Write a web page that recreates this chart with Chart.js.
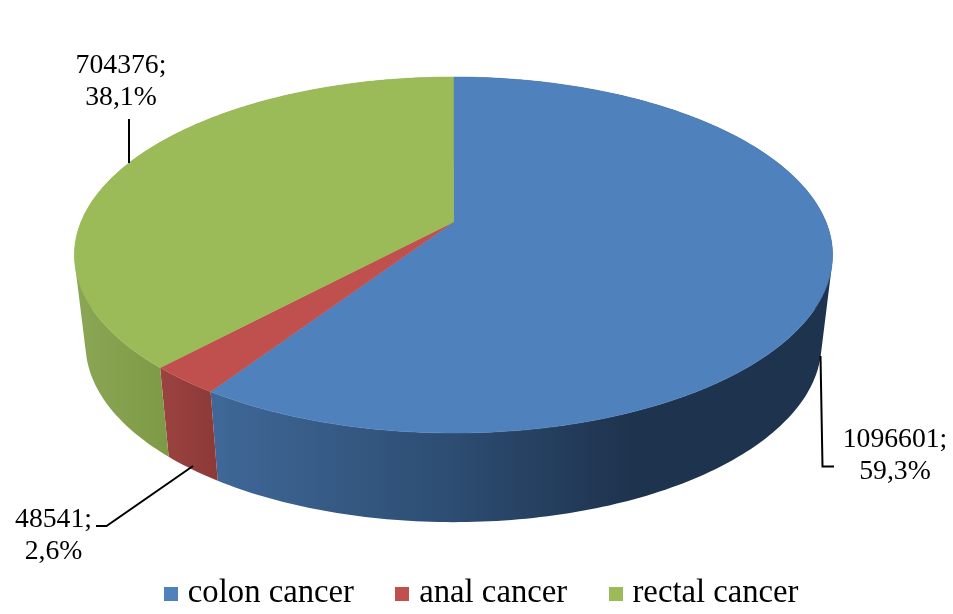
<!DOCTYPE html>
<html>
<head>
<meta charset="utf-8">
<title>Colorectal cancer cases</title>
<script src="https://cdn.jsdelivr.net/npm/chart.js@4/dist/chart.umd.min.js"></script>
<style>
  html, body { margin: 0; padding: 0; background: #fff; }
  #wrap { width: 953px; height: 614px; }
</style>
</head>
<body>
<div id="wrap"><canvas id="myChart" width="953" height="614"></canvas></div>
<script>
const categories = ['colon cancer', 'anal cancer', 'rectal cancer'];
const cases = [1096601, 48541, 704376];

const topColors = ['#4f81bd', '#c0504d', '#9bbb59'];
// side wall shading, left to right across the wall
const sideShades = [
  [[211, '#3f6898'], [450, '#2d4d72'], [630, '#1e334e'], [833, '#1e334e']],
  [[160, '#9c4341'], [218, '#8b3937']],
  [[74, '#8ba654'], [168, '#7f9a47']]
];

// perspective of the tilted disc, fitted to the picture
const topFace = { cx: 453.5, cy: 222, a: 372.5, b: 171.9, k: 0.1854 };
const bottomFace = { cx: 453.5, cy: 311, a: 361.6, b: 172, k: 0.1854 };

function project(face, angle) {
  const u = Math.cos(angle);
  const v = -Math.sin(angle);
  const w = 1 + face.k * v;
  return [face.cx + face.a * u / w, face.cy - face.b * v / w];
}

function arcPoints(face, start, end) {
  const steps = Math.max(8, Math.ceil((end - start) * 60));
  const pts = [];
  for (let i = 0; i <= steps; i++) {
    pts.push(project(face, start + (end - start) * i / steps));
  }
  return pts;
}

function addPolygon(ctx, pts) {
  pts.forEach(function(p, i) {
    if (i === 0) ctx.moveTo(p[0], p[1]);
    else ctx.lineTo(p[0], p[1]);
  });
  ctx.closePath();
}

function signedArea(pts) {
  let sum = 0;
  pts.forEach(function(p, i) {
    const q = pts[(i + 1) % pts.length];
    sum += p[0] * q[1] - q[0] * p[1];
  });
  return sum;
}

const pie3d = {
  id: 'pie3d',
  beforeDatasetDraw(chart, args) {
    const ctx = chart.ctx;
    const arcs = args.meta.data;
    ctx.save();
    // walls first, the top face covers whatever is behind it
    arcs.forEach(function(arc, i) {
      const p = arc.getProps(['startAngle', 'endAngle']);
      const upper = arcPoints(topFace, p.startAngle, p.endAngle);
      const lower = arcPoints(bottomFace, p.startAngle, p.endAngle);
      const stops = sideShades[i];
      const x0 = stops[0][0];
      const x1 = stops[stops.length - 1][0];
      const grad = ctx.createLinearGradient(x0, 0, x1, 0);
      stops.forEach(function(s) { grad.addColorStop((s[0] - x0) / (x1 - x0), s[1]); });
      // one path of quads all wound the same way, so they fill without seams
      ctx.beginPath();
      for (let j = 0; j < upper.length - 1; j++) {
        const quad = [upper[j], upper[j + 1], lower[j + 1], lower[j]];
        if (signedArea(quad) < 0) quad.reverse();
        addPolygon(ctx, quad);
      }
      ctx.fillStyle = grad;
      ctx.fill();
    });
    arcs.forEach(function(arc, i) {
      const p = arc.getProps(['startAngle', 'endAngle']);
      const pts = arcPoints(topFace, p.startAngle, p.endAngle);
      pts.unshift([topFace.cx, topFace.cy]);
      ctx.beginPath();
      addPolygon(ctx, pts);
      ctx.fillStyle = topColors[i];
      ctx.strokeStyle = topColors[i];
      ctx.lineWidth = 0.5;
      ctx.fill();
      ctx.stroke();
    });
    ctx.restore();
    return false;
  },
  afterDatasetsDraw(chart) {
    const ctx = chart.ctx;
    const total = cases.reduce(function(a, b) { return a + b; }, 0);
    const spots = [
      { x: 895, y: 447, line: [[820.5, 356], [822.5, 466.5], [834, 466.5]] },
      { x: 53.5, y: 527, line: [[193, 466], [106.5, 526], [96, 526]] },
      { x: 121, y: 73, line: [[129, 163], [129, 119]] }
    ];
    ctx.save();
    ctx.fillStyle = '#000';
    ctx.strokeStyle = '#000';
    ctx.lineWidth = 2;
    ctx.font = '27.7px "Liberation Serif"';
    ctx.textAlign = 'center';
    ctx.textBaseline = 'alphabetic';
    spots.forEach(function(s, i) {
      ctx.beginPath();
      s.line.forEach(function(p, j) {
        if (j === 0) ctx.moveTo(p[0], p[1]);
        else ctx.lineTo(p[0], p[1]);
      });
      ctx.stroke();
      const pct = (cases[i] / total * 100).toFixed(1).replace('.', ',');
      ctx.fillText(cases[i] + ';', s.x, s.y);
      ctx.fillText(pct + '%', s.x, s.y + 32);
    });
    ctx.restore();
  }
};

// legend marker as an image, so the gap to the text can be tighter than the default
function legendSwatch(color) {
  const c = document.createElement('canvas');
  c.width = 14;
  c.height = 14;
  const g = c.getContext('2d');
  g.fillStyle = color;
  g.fillRect(0, 0, 14, 14);
  return c;
}

new Chart(document.getElementById('myChart'), {
  type: 'pie',
  plugins: [pie3d],
  data: {
    labels: categories,
    datasets: [{
      data: cases,
      backgroundColor: topColors,
      pointStyle: topColors.map(legendSwatch)
    }]
  },
  options: {
    responsive: false,
    animation: false,
    layout: { padding: { left: 16, bottom: -6 } },
    plugins: {
      tooltip: { enabled: false },
      legend: {
        position: 'bottom',
        labels: {
          usePointStyle: true,
          pointStyleWidth: 1,
          padding: 48,
          color: '#000',
          font: { family: '"Liberation Serif"', size: 32.7 },
          generateLabels(chart) {
            return categories.map(function(name, i) {
              return {
                text: name,
                index: i,
                fontColor: '#000',
                fillStyle: topColors[i],
                strokeStyle: topColors[i],
                lineWidth: 0,
                pointStyle: chart.data.datasets[0].pointStyle[i]
              };
            });
          }
        }
      }
    }
  }
});
</script>
</body>
</html>
